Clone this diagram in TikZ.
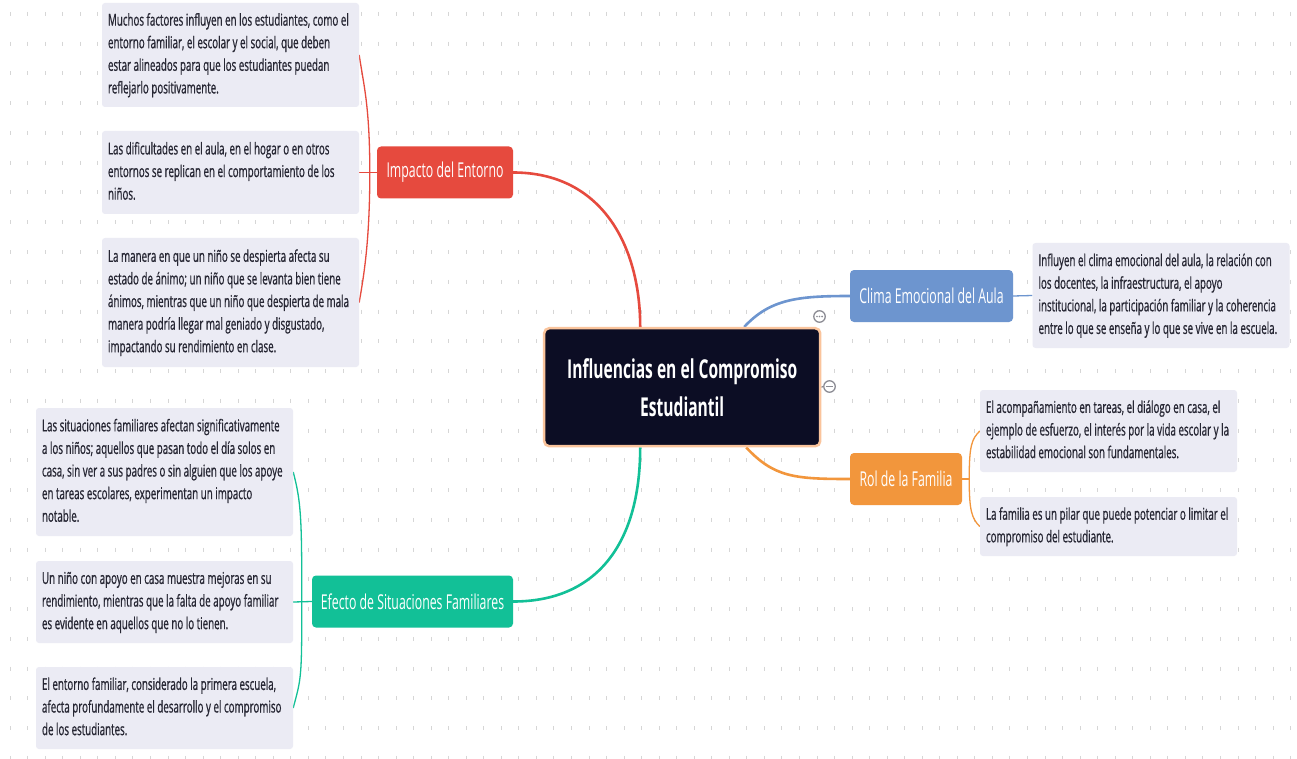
\documentclass[tikz,border=0pt]{standalone}
\usepackage{fontspec}
\setmainfont{Open Sans}[FakeStretch=0.6]
\newfontfamily\leaffont{Open Sans}[FakeStretch=0.6, FakeBold=0.8]
\usetikzlibrary{backgrounds}

\definecolor{rootfill}{HTML}{0C0D24}
\definecolor{rootedge}{HTML}{FAC49C}
\definecolor{cred}{HTML}{E64A3E}
\definecolor{cblue}{HTML}{6D95CF}
\definecolor{corange}{HTML}{F2963C}
\definecolor{cteal}{HTML}{12C097}
\definecolor{leaffill}{HTML}{EBEBF4}
\definecolor{leaftext}{HTML}{262633}
\definecolor{gridtickc}{HTML}{D6D6D6}
\definecolor{iconc}{HTML}{8C8C94}

% left-aligned block of lines with a fixed width
\newcommand\leaflines[1]{\makebox[245pt][l]{\begin{tabular}{@{}l@{}}#1\end{tabular}}}

\pgfdeclarelayer{dots}
\pgfsetlayers{dots,background,main}

\tikzset{
  rootbox/.style={draw=rootedge, line width=2.5pt, fill=rootfill, rounded corners=5pt,
    minimum width=276pt, minimum height=118pt, text=white, align=center,
    font=\fontsize{26}{38}\selectfont\bfseries},
  topic/.style={fill=#1, rounded corners=4pt, minimum height=52pt, inner xsep=6pt,
    text=white, font=\fontsize{20.5}{24}\selectfont},
  leaf/.style={fill=leaffill, rounded corners=3pt, inner xsep=6pt, inner ysep=0pt,
    text=leaftext, font=\leaffont\fontsize{16.3}{22.6}\selectfont},
  branch/.style={line width=2.6pt, draw=#1},
  twig/.style={line width=1.3pt, draw=#1},
  gridtick/.style={draw=gridtickc, line width=1pt},
  icon/.style={circle, draw=iconc, line width=1.3pt, fill=white, minimum size=11.5pt, inner sep=0pt},
}

\begin{document}
\begin{tikzpicture}[x=1pt, y=-1pt]
\useasboundingbox (0,0) rectangle (1297,759);

% dotted canvas
\begin{pgfonlayer}{dots}
  \fill[white] (0,0) rectangle (1297,759);
  \foreach \i in {0,...,73}{
    \foreach \j in {0,...,25}{
      \draw[gridtick] ({10.2+17.54*\i},{12+29.75*\j}) -- ++(0,4);
    }
  }
\end{pgfonlayer}

% central topic
\node[rootbox] (root) at (682.2,387.2) {Influencias en el Compromiso\\Estudiantil};

% main topics
\node[topic=cred, minimum width=136pt] (imp) at (445,172.5) {Impacto del Entorno};
\node[topic=cblue, minimum width=163pt] (clima) at (931.5,296) {Clima Emocional del Aula};
\node[topic=corange, minimum width=112pt] (rol) at (906,479) {Rol de la Familia};
\node[topic=cteal, minimum width=201pt] (efecto) at (412.5,601.5) {Efecto de Situaciones Familiares};

% details: Impacto del Entorno
\node[leaf, minimum height=104pt] (r1) at (230.5,55) {\leaflines{Muchos factores influyen en los estudiantes, como el\\entorno familiar, el escolar y el social, que deben\\estar alineados para que los estudiantes puedan\\reflejarlo positivamente.}};
\node[leaf, minimum height=83pt] (r2) at (230.5,172.5) {\leaflines{Las dificultades en el aula, en el hogar o en otros\\entornos se replican en el comportamiento de los\\niños.}};
\node[leaf, minimum height=129pt] (r3) at (230.5,302.5) {\leaflines{La manera en que un niño se despierta afecta su\\estado de ánimo; un niño que se levanta bien tiene\\ánimos, mientras que un niño que despierta de mala\\manera podría llegar mal geniado y disgustado,\\impactando su rendimiento en clase.}};

% details: Clima Emocional del Aula
\node[leaf, minimum height=105pt] (b1) at (1161,295.5) {\leaflines{Influyen el clima emocional del aula, la relación con\\los docentes, la infraestructura, el apoyo\\institucional, la participación familiar y la coherencia\\entre lo que se enseña y lo que se vive en la escuela.}};

% details: Rol de la Familia
\node[leaf, minimum height=82pt] (o1) at (1108.5,431) {\leaflines{El acompañamiento en tareas, el diálogo en casa, el\\ejemplo de esfuerzo, el interés por la vida escolar y la\\estabilidad emocional son fundamentales.}};
\node[leaf, minimum height=59pt] (o2) at (1108.5,526.5) {\leaflines{La familia es un pilar que puede potenciar o limitar el\\compromiso del estudiante.}};

% details: Efecto de Situaciones Familiares
\node[leaf, minimum height=128pt] (t1) at (164.5,472) {\leaflines{Las situaciones familiares afectan significativamente\\a los niños; aquellos que pasan todo el día solos en\\casa, sin ver a sus padres o sin alguien que los apoye\\en tareas escolares, experimentan un impacto\\notable.}};
\node[leaf, minimum height=82pt] (t2) at (164.5,602) {\leaflines{Un niño con apoyo en casa muestra mejoras en su\\rendimiento, mientras que la falta de apoyo familiar\\es evidente en aquellos que no lo tienen.}};
\node[leaf, minimum height=82pt] (t3) at (164.5,708) {\leaflines{El entorno familiar, considerado la primera escuela,\\afecta profundamente el desarrollo y el compromiso\\de los estudiantes.}};

% fold / more icons beside the central topic
\node[icon] (more) at (819.5,316.5) {};
\foreach \dx in {-2.6,0,2.6}{\fill[iconc] ([xshift=\dx pt]more.center) circle (0.9pt);}
\node[icon] (fold) at (829.5,386.5) {};
\draw[iconc, line width=1.3pt] ([xshift=-3.6pt]fold.center) -- ([xshift=3.6pt]fold.center);

\begin{pgfonlayer}{background}
  % main branches
  \draw[branch=cred] ([xshift=-42pt]root.north) .. controls +(0,-82) and +(88,0) .. (imp.east);
  \draw[branch=cblue] ([xshift=62pt]root.north) .. controls +(26,-28) and +(-52,0) .. (clima.west);
  \draw[branch=corange] ([xshift=64pt]root.south) .. controls +(28,30) and +(-55,0) .. (rol.west);
  \draw[branch=cteal] ([xshift=-42pt]root.south) .. controls +(0,98) and +(82,0) .. (efecto.east);
  \draw[iconc, line width=1.3pt] (root.east) -- (fold.west);

  % red bracket
  \coordinate (rj) at ([xshift=-7pt]imp.west);
  \draw[twig=cred] (imp.west) -- (r2.east);
  \draw[twig=cred] (rj) .. controls +(0,-68) and +(4,28) .. (r1.east);
  \draw[twig=cred] (rj) .. controls +(0,72) and +(4,-24) .. (r3.east);

  % blue link
  \draw[twig=cblue] (clima.east) -- (b1.west);

  % orange bracket
  \coordinate (oj) at ([xshift=7pt]rol.east);
  \draw[twig=corange] (rol.east) -- (oj);
  \draw[twig=corange] (oj) .. controls +(0,-34) and +(-8,8) .. (o1.west);
  \draw[twig=corange] (oj) .. controls +(0,32) and +(-8,-8) .. (o2.west);

  % teal bracket
  \coordinate (tj) at ([xshift=-10pt]efecto.west);
  \draw[twig=cteal] (efecto.west) -- (t2.east);
  \draw[twig=cteal] (tj) .. controls +(0,-82) and +(8,30) .. (t1.east);
  \draw[twig=cteal] (tj) .. controls +(0,78) and +(8,-30) .. (t3.east);
\end{pgfonlayer}
\end{tikzpicture}
\end{document}
